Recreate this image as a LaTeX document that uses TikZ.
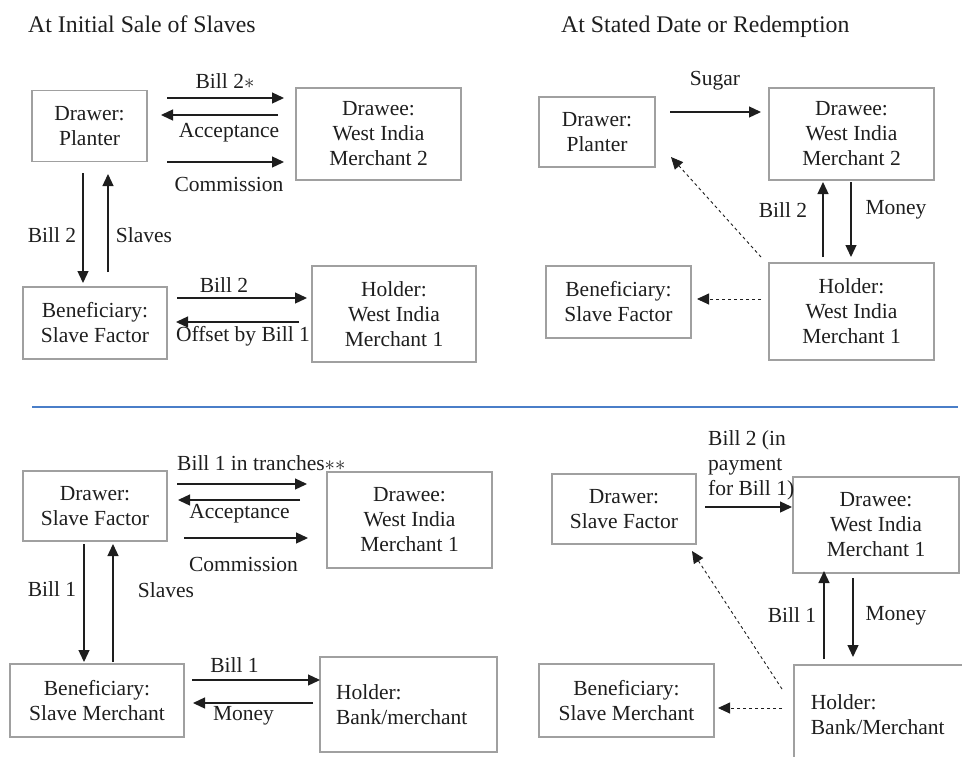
\documentclass[tikz,border=0pt]{standalone}
\usepackage{fontspec}
\setmainfont{Liberation Serif}
\usetikzlibrary{arrows.meta}
\definecolor{boxgray}{RGB}{160,160,160}
\definecolor{txt}{RGB}{30,30,30}
\definecolor{sepblue}{RGB}{74,126,200}
\newcommand\figfont{\fontsize{21.5}{25}\selectfont}
\begin{document}
\begin{tikzpicture}[x=1pt,y=-1pt,
  box/.style={draw=boxgray,line width=1.8pt,align=center,inner sep=0pt,font=\figfont,text=txt},
  lbl/.style={inner sep=0pt,font=\figfont,text=txt},
  arr/.style={draw=txt,line width=1.3pt,-{Triangle[length=12pt,width=11pt]}},
  dsh/.style={draw=txt,line width=0.9pt,dash pattern=on 3pt off 3pt,-{Triangle[length=12pt,width=11pt]}}]
\useasboundingbox (0,0) rectangle (962,756);
\clip (0,0) rectangle (962,756);

% titles
\node[lbl,anchor=base west,font=\fontsize{23.8}{28}\selectfont] (t1) at (28,32) {At Initial Sale of Slaves};
\node[lbl,anchor=base west,font=\fontsize{23.8}{28}\selectfont] (t2) at (561,32) {At Stated Date or Redemption};

% ---------------- top left ----------------
\node[box,minimum width=115,minimum height=71] (tlDr) at (89.5,126) {Drawer:\\Planter};
\node[box,minimum width=165,minimum height=92] (tlDe) at (378.5,134) {Drawee:\\West India\\Merchant 2};
\node[box,minimum width=144,minimum height=72] (tlBe) at (95,323) {Beneficiary:\\Slave Factor};
\node[box,minimum width=164,minimum height=96] (tlHo) at (394,314) {Holder:\\West India\\Merchant 1};

\coordinate (a1s) at (167,98);  \coordinate (a1e) at (284,98);
\coordinate (a2s) at (278,115); \coordinate (a2e) at (161,115);
\coordinate (a3s) at (167,162); \coordinate (a3e) at (284,162);
\coordinate (a4s) at (83,173);  \coordinate (a4e) at (83,283);
\coordinate (a5s) at (108,272); \coordinate (a5e) at (108,174);
\coordinate (a6s) at (177,298); \coordinate (a6e) at (307,298);
\coordinate (a7s) at (299,322); \coordinate (a7e) at (176,322);
\draw[arr] (a1s) -- (a1e);
\draw[arr] (a2s) -- (a2e);
\draw[arr] (a3s) -- (a3e);
\draw[arr] (a4s) -- (a4e);
\draw[arr] (a5s) -- (a5e);
\draw[arr] (a6s) -- (a6e);
\draw[arr] (a7s) -- (a7e);

\node[lbl] (l1) at (225,81) {Bill 2$\ast$};
\node[lbl] (l2) at (229,133) {Acceptance};
\node[lbl] (l3) at (229,184) {Commission};
\node[lbl] (l4) at (52,235) {Bill 2};
\node[lbl] (l5) at (144,235) {Slaves};
\node[lbl] (l6) at (224,285) {Bill 2};
\node[lbl] (l7) at (243,336) {Offset by Bill 1};

% ---------------- top right ----------------
\node[box,minimum width=116,minimum height=70] (trDr) at (597,132) {Drawer:\\Planter};
\node[box,minimum width=165,minimum height=92] (trDe) at (851.5,134) {Drawee:\\West India\\Merchant 2};
\node[box,minimum width=145,minimum height=72] (trBe) at (618.5,302) {Beneficiary:\\Slave Factor};
\node[box,minimum width=165,minimum height=97] (trHo) at (851.5,311.5) {Holder:\\West India\\Merchant 1};

\coordinate (b1s) at (670,112); \coordinate (b1e) at (761,112);
\coordinate (b2s) at (823,257); \coordinate (b2e) at (823,182);
\coordinate (b3s) at (851,182); \coordinate (b3e) at (851,257);
\coordinate (b4s) at (761,257); \coordinate (b4e) at (671,157);
\coordinate (b5s) at (761,299); \coordinate (b5e) at (697,299);
\draw[arr] (b1s) -- (b1e);
\draw[arr] (b2s) -- (b2e);
\draw[arr] (b3s) -- (b3e);
\draw[dsh] (b4s) -- (b4e);
\draw[dsh] (b5s) -- (b5e);

\node[lbl] (m1) at (715,81) {Sugar};
\node[lbl] (m2) at (783,210) {Bill 2};
\node[lbl] (m3) at (896,210) {Money};

% separator
\coordinate (sepL) at (32,407); \coordinate (sepR) at (958,407);
\draw[sepblue,line width=1.3pt] (sepL) -- (sepR);

% ---------------- bottom left ----------------
\node[box,minimum width=144,minimum height=70] (blDr) at (95,506) {Drawer:\\Slave Factor};
\node[box,minimum width=165,minimum height=96] (blDe) at (409.5,520) {Drawee:\\West India\\Merchant 1};
\node[box,minimum width=174,minimum height=73] (blBe) at (97,700.5) {Beneficiary:\\Slave Merchant};
\node[box,minimum height=95,inner xsep=16pt,text width=145pt,align=left] (blHo) at (408.5,704.5) {Holder:\\Bank/merchant};

\coordinate (c1s) at (177,484); \coordinate (c1e) at (307,484);
\coordinate (c2s) at (300,500); \coordinate (c2e) at (178,500);
\coordinate (c3s) at (184,538); \coordinate (c3e) at (308,538);
\coordinate (c4s) at (84,544);  \coordinate (c4e) at (84,662);
\coordinate (c5s) at (113,662); \coordinate (c5e) at (113,544);
\coordinate (c6s) at (192,680); \coordinate (c6e) at (320,680);
\coordinate (c7s) at (313,703); \coordinate (c7e) at (193,703);
\draw[arr] (c1s) -- (c1e);
\draw[arr] (c2s) -- (c2e);
\draw[arr] (c3s) -- (c3e);
\draw[arr] (c4s) -- (c4e);
\draw[arr] (c5s) -- (c5e);
\draw[arr] (c6s) -- (c6e);
\draw[arr] (c7s) -- (c7e);

\node[lbl,anchor=west] (n1) at (177,463) {Bill 1 in tranches$\ast\ast$};
\node[lbl] (n2) at (239.5,514) {Acceptance};
\node[lbl] (n3) at (243.5,564) {Commission};
\node[lbl] (n4) at (52,589) {Bill 1};
\node[lbl] (n5) at (166,590) {Slaves};
\node[lbl] (n6) at (234.5,665) {Bill 1};
\node[lbl] (n7) at (243.5,716) {Money};

% ---------------- bottom right ----------------
\node[box,minimum width=144,minimum height=70] (brDr) at (624,509) {Drawer:\\Slave Factor};
\node[box,minimum width=166,minimum height=96] (brDe) at (876,525) {Drawee:\\West India\\Merchant 1};
\node[box,minimum width=175,minimum height=73] (brBe) at (626.5,700.5) {Beneficiary:\\Slave Merchant};
\node[box,anchor=north west,minimum height=100,inner xsep=17pt,text width=166pt,align=left] (brHo) at (793,664) {Holder:\\Bank/Merchant};

\coordinate (d1s) at (705,507); \coordinate (d1e) at (792,507);
\coordinate (d2s) at (824,659); \coordinate (d2e) at (824,571);
\coordinate (d3s) at (853,578); \coordinate (d3e) at (853,657);
\coordinate (d4s) at (782,689); \coordinate (d4e) at (692,551);
\coordinate (d5s) at (782,708); \coordinate (d5e) at (718,708);
\draw[arr] (d1s) -- (d1e);
\draw[arr] (d2s) -- (d2e);
\draw[arr] (d3s) -- (d3e);
\draw[dsh] (d4s) -- (d4e);
\draw[dsh] (d5s) -- (d5e);

\node[lbl,anchor=west,align=left] (o1) at (708,465) {Bill 2 (in\\payment\\for Bill 1)};
\node[lbl] (o2) at (792,615) {Bill 1};
\node[lbl] (o3) at (896,616) {Money};
\end{tikzpicture}
\end{document}
